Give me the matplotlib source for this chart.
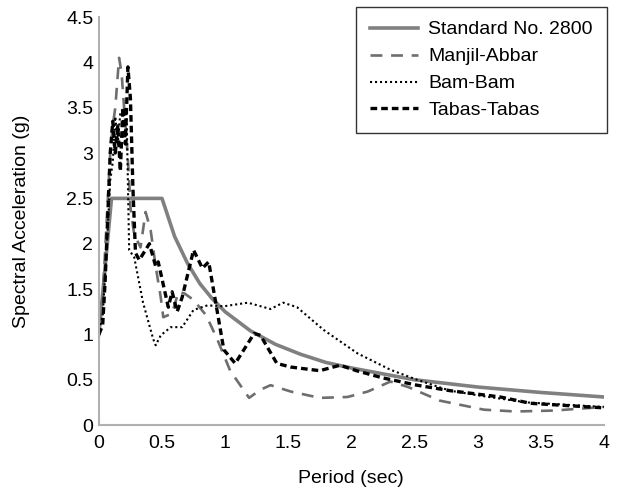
import numpy as np
import matplotlib
matplotlib.use('Agg')
import matplotlib.pyplot as plt

plt.rcParams['font.family'] = ['Liberation Sans', 'DejaVu Sans']

# Standard No. 2800 design spectrum
t_std = [0, 0.1, 0.5, 0.6, 0.7, 0.8, 0.9, 1.0, 1.2, 1.4, 1.6, 1.8, 2.0, 2.5, 3.0, 3.5, 4.0]
v_std = [1.0, 2.5, 2.5, 2.08, 1.79, 1.56, 1.39, 1.25, 1.04, 0.89, 0.78, 0.69, 0.63, 0.5, 0.42, 0.36, 0.31]

# Manjil-Abbar
t_man = [0, 0.03, 0.06, 0.09, 0.11, 0.13, 0.16, 0.18, 0.2, 0.22, 0.24, 0.25, 0.28, 0.33, 0.37,
         0.41, 0.45, 0.49, 0.51, 0.58, 0.63, 0.68, 0.75, 0.85, 0.94, 1.04, 1.19, 1.28, 1.36,
         1.52, 1.75, 1.97, 2.13, 2.31, 2.45, 2.7, 3.05, 3.3, 3.6, 4.0]
v_man = [1.1, 1.4, 2.2, 3.0, 3.3, 3.5, 4.05, 3.88, 3.5, 3.14, 2.7, 2.4, 2.1, 1.96, 2.35,
         2.15, 1.75, 1.41, 1.19, 1.23, 1.47, 1.45, 1.38, 1.21, 0.94, 0.6, 0.3, 0.39, 0.44,
         0.37, 0.3, 0.31, 0.37, 0.48, 0.42, 0.27, 0.17, 0.15, 0.16, 0.2]

# Bam-Bam
t_bam = [0, 0.03, 0.06, 0.09, 0.11, 0.13, 0.15, 0.17, 0.2, 0.22, 0.24, 0.28, 0.35, 0.43,
         0.45, 0.49, 0.57, 0.66, 0.75, 0.86, 0.99, 1.18, 1.36, 1.46, 1.57, 1.78, 2.05,
         2.31, 2.52, 2.78, 3.04, 3.39, 4.0]
v_bam = [1.05, 1.2, 1.9, 2.7, 2.9, 3.4, 3.1, 3.45, 3.5, 3.4, 1.93, 1.85, 1.35, 0.95,
         0.88, 0.99, 1.08, 1.08, 1.27, 1.32, 1.31, 1.35, 1.28, 1.35, 1.30, 1.05, 0.79,
         0.61, 0.5, 0.38, 0.32, 0.25, 0.2]

# Tabas-Tabas
t_tab = [0, 0.03, 0.05, 0.07, 0.09, 0.11, 0.13, 0.15, 0.17, 0.19, 0.21, 0.23, 0.25, 0.27,
         0.29, 0.32, 0.4, 0.45, 0.47, 0.55, 0.58, 0.62, 0.66, 0.75, 0.82, 0.87, 0.99, 1.08,
         1.23, 1.28, 1.41, 1.52, 1.75, 1.91, 2.04, 2.25, 2.52, 2.78, 3.18, 3.42, 4.0]
v_tab = [1.0, 1.1, 1.6, 2.3, 3.0, 3.35, 3.0, 3.3, 2.8, 3.5, 3.1, 3.95, 3.6, 2.6,
         1.9, 1.82, 2.0, 1.75, 1.8, 1.3, 1.47, 1.25, 1.41, 1.93, 1.73, 1.8, 0.83, 0.68,
         1.01, 0.99, 0.68, 0.64, 0.6, 0.66, 0.6, 0.52, 0.44, 0.38, 0.31, 0.24, 0.19]

fig = plt.figure(figsize=(6.18, 4.92), dpi=100)
ax = fig.add_axes([0.160, 0.136, 0.817, 0.8294])

ax.plot(t_std, v_std, color='#808080', lw=2.6, label='Standard No. 2800')
ax.plot(t_man, v_man, color='#6e6e6e', lw=1.9, dashes=(4.5, 3.3), label='Manjil-Abbar')
ax.plot(t_bam, v_bam, color='black', lw=1.5, dashes=(1, 1.4), label='Bam-Bam')
ax.plot(t_tab, v_tab, color='black', lw=2.4, dashes=(2, 1.2), label='Tabas-Tabas')

ax.set_xlim(0, 4)
ax.set_ylim(0, 4.5)
ax.set_xticks(np.arange(0, 4.01, 0.5))
ax.set_xticklabels(['0', '0.5', '1', '1.5', '2', '2.5', '3', '3.5', '4'])
ax.set_yticks(np.arange(0, 4.51, 0.5))
ax.set_yticklabels(['0', '0.5', '1', '1.5', '2', '2.5', '3', '3.5', '4', '4.5'])
ax.tick_params(length=0, labelsize=14)
ax.tick_params(axis='x', pad=7)
ax.tick_params(axis='y', pad=4)

for s in ['top', 'right']:
    ax.spines[s].set_visible(False)
for s in ['left', 'bottom']:
    ax.spines[s].set_color('#b0b0b0')
    ax.spines[s].set_linewidth(1.5)

ax.set_xlabel('Period (sec)', fontsize=14, labelpad=13)
ax.set_ylabel('Spectral Acceleration (g)', fontsize=14, labelpad=26)

leg = ax.legend(loc='upper right', bbox_to_anchor=(1.006, 1.025), fontsize=14,
                frameon=True, fancybox=False, handlelength=2.45, handletextpad=0.55,
                borderpad=0.72, labelspacing=0.48, borderaxespad=0)
leg.get_frame().set_edgecolor('black')
leg.get_frame().set_linewidth(1.0)

fig.savefig('out.png', dpi=100)
